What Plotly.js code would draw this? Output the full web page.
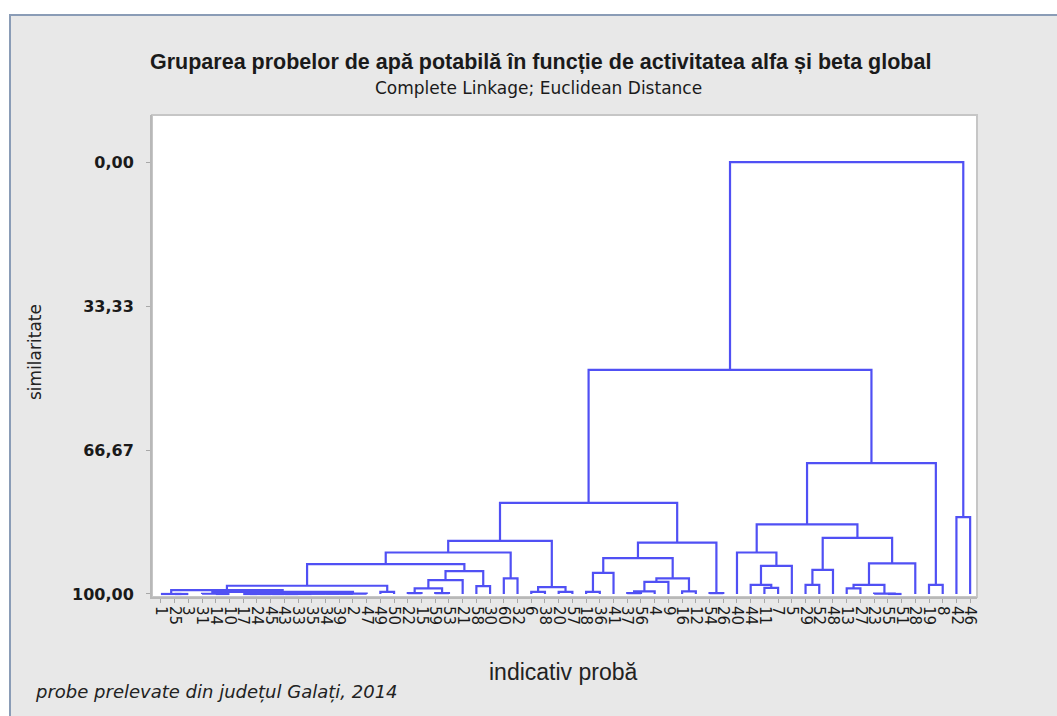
<!DOCTYPE html>
<html><head><meta charset="utf-8">
<script src="https://cdn.plot.ly/plotly-3.0.1.min.js"></script>
<style>html,body{margin:0;padding:0;background:#fff;}#chart{width:1057px;height:716px;}</style>
</head><body><div id="chart"></div>
<script>
// Leaf labels in display order (sample numbers)
const leafLabels = [1,25,3,31,14,10,17,24,45,43, 33,35,34,39,2,47,49,50,22,15,
  59,53,21,58,30,60,32,6,38,20, 57,18,36,41,37,56,4,9,16,12,
  54,26,40,44,11,7,5,29,52,48, 13,27,23,55,51,28,19,8,42,46];

// Merges: positive = leaf position (1..60), negative = -(index of earlier merge + 1)
const mergeLeft  = [2,1,5,4,7,-5,-6,-7,-8,-9,-10,-11,-12,-4,-2,17,-15,19,21,-18,
  -20,24,-21,-17,26,-24,28,30,-27,-26, 32,-31,35,-33,-34,39,-35,-32,41,-38,
  -30,45,44,-43,43,48,-46,51,54,53, -48,-51,-47,-45,57,-54,-41,59,-57];
const mergeRight = [3,-1,6,-3,8,9,10,11,12,13,14,15,16,-13,-14,18,-16,20,22,-19,
  23,25,-22,-23,27,-25,29,31,-28,-29, 33,34,36,37,38,40,-36,-37,42,-39,
  -40,46,-42,47,-44,49,50,52,55,-49, -50,56,-52,-53,58,-55,-56,60,-58];
const mergeSimilarity = [100,100,100,99.95,100,100,100,100,100,99.95,99.95,99.9,99.9,99.5,99.1,99.5,98.1,99.8,99.8,98.7,
  96.8,98.2,94.7,93.1,96.4,90.4,99.5,99.5,98.4,87.7, 99.5,95.1,99.8,99.4,97.2,99.4,96.4,91.7,99.8,88.1,
  78.9,98.6,97.9,93.5,90.4,97.9,94.4,98.7,100,99.9, 97.9,92.9,87.0,83.9,97.9,69.7,48.1,82.2,0];

const yTickValues = [0, 33.33, 66.67, 100];
const yTickLabels = ['0,00', '33,33', '66,67', '100,00'];

const nodeX = [], nodeY = [];
function pos(ref) { return ref > 0 ? [ref, 100] : [nodeX[-ref - 1], nodeY[-ref - 1]]; }
const xs = [], ys = [];
for (let k = 0; k < mergeLeft.length; k++) {
  const [xa, ya] = pos(mergeLeft[k]);
  const [xb, yb] = pos(mergeRight[k]);
  const s = mergeSimilarity[k];
  xs.push(xa, xa, xb, xb, null);
  ys.push(ya, s, s, yb, null);
  nodeX.push((xa + xb) / 2);
  nodeY.push(s);
}
const tickPos = leafLabels.map((_, i) => i + 1);

const trace = {
  x: xs, y: ys, type: 'scatter', mode: 'lines',
  line: {color: '#5050f4', width: 2.2}, hoverinfo: 'skip', connectgaps: false
};

const L = 152, R = 977, T = 115, B = 597;
const px = v => (v - L) / (R - L);
const py = v => (B - v) / (B - T);

const layout = {
  width: 1057, height: 716,
  margin: {l: L, r: 1057 - R, t: T, b: 716 - B, pad: 0},
  paper_bgcolor: '#ffffff', plot_bgcolor: '#ffffff',
  showlegend: false,
  font: {family: 'Liberation Sans, Arial, sans-serif', color: '#222'},
  xaxis: {
    range: [0.35, 60.5], tickmode: 'array', tickvals: tickPos, ticktext: leafLabels.map(String),
    tickangle: 90, ticks: 'outside', ticklen: 4, tickwidth: 1, tickcolor: '#a8a8a8',
    showline: true, linecolor: '#b8b8b8', linewidth: 2, showgrid: false, zeroline: false,
    tickfont: {family: 'DejaVu Sans, sans-serif', size: 15, color: '#1a1a1a'}, fixedrange: true
  },
  yaxis: {
    range: [100.7, -10.9], tickmode: 'array', tickvals: yTickValues, ticktext: yTickLabels,
    ticks: 'outside', ticklen: 4, tickcolor: '#a8a8a8', ticklabelstandoff: 9,
    showline: true, linecolor: '#b8b8b8', linewidth: 2, showgrid: false, zeroline: false,
    tickfont: {family: 'DejaVu Sans, sans-serif', size: 16, color: '#1a1a1a', weight: 'bold'}, fixedrange: true
  },
  shapes: [
    {type: 'rect', xref: 'paper', yref: 'paper', layer: 'below',
     x0: px(10), x1: px(1070), y0: py(730), y1: py(15),
     fillcolor: '#e8e8e8', line: {color: '#8a9cb6', width: 2}},
    {type: 'rect', xref: 'paper', yref: 'paper', layer: 'below',
     x0: 0, x1: 1, y0: 0, y1: 1,
     fillcolor: '#ffffff', line: {color: '#c6c6c6', width: 2}}
  ],
  annotations: [
    {text: '<b>Gruparea probelor de apă potabilă în funcție de activitatea alfa și beta global</b>',
     xref: 'paper', yref: 'paper', x: px(540), y: py(62), xanchor: 'center', yanchor: 'middle',
     showarrow: false, font: {size: 21.5, color: '#1a1a1a'}},
    {text: 'Complete Linkage; Euclidean Distance',
     xref: 'paper', yref: 'paper', x: px(538), y: py(88), xanchor: 'center', yanchor: 'middle',
     showarrow: false, font: {family: 'DejaVu Sans, sans-serif', size: 17, color: '#1a1a1a'}},
    {text: 'indicativ probă',
     xref: 'paper', yref: 'paper', x: px(563), y: py(672), xanchor: 'center', yanchor: 'middle',
     showarrow: false, font: {size: 23, color: '#222'}},
    {text: 'similaritate',
     xref: 'paper', yref: 'paper', x: px(35), y: py(352), xanchor: 'center', yanchor: 'middle',
     textangle: -90, showarrow: false, font: {family: 'DejaVu Sans, sans-serif', size: 17, color: '#222'}},
    {text: '<i>probe prelevate din județul Galați, 2014</i>',
     xref: 'paper', yref: 'paper', x: px(33), y: py(692), xanchor: 'left', yanchor: 'middle',
     showarrow: false, font: {family: 'DejaVu Sans, sans-serif', size: 18, color: '#222'}}
  ]
};

Plotly.newPlot('chart', [trace], layout, {staticPlot: true, displayModeBar: false});
</script>
</body></html>
